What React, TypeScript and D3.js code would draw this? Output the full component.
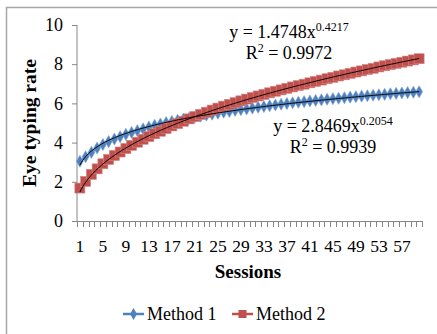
import React, { useEffect, useRef } from "react";
import * as d3 from "d3";

// sessions 1..60
const sessions: number[] = d3.range(1, 61);

const method1: number[] = [
  3.05, 3.28, 3.5, 3.72, 3.9, 4.05, 4.18, 4.3, 4.42, 4.52,
  4.61, 4.7, 4.8, 4.88, 4.95, 5.02, 5.08, 5.14, 5.2, 5.25,
  5.3, 5.35, 5.4, 5.45, 5.5, 5.55, 5.59, 5.64, 5.68, 5.72,
  5.76, 5.8, 5.84, 5.88, 5.92, 5.96, 5.99, 6.03, 6.06, 6.09,
  6.12, 6.15, 6.18, 6.21, 6.24, 6.26, 6.29, 6.32, 6.34, 6.37,
  6.39, 6.42, 6.44, 6.46, 6.49, 6.51, 6.53, 6.55, 6.57, 6.59,
];

const method2: number[] = [
  1.68, 2.02, 2.38, 2.66, 2.92, 3.14, 3.34, 3.52, 3.7, 3.86,
  4.02, 4.17, 4.31, 4.45, 4.58, 4.72, 4.85, 4.97, 5.09, 5.21,
  5.33, 5.44, 5.55, 5.66, 5.76, 5.86, 5.95, 6.04, 6.13, 6.22,
  6.3, 6.38, 6.46, 6.54, 6.62, 6.69, 6.77, 6.84, 6.91, 6.98,
  7.05, 7.12, 7.19, 7.26, 7.33, 7.4, 7.46, 7.53, 7.6, 7.66,
  7.73, 7.79, 7.86, 7.92, 7.98, 8.04, 8.1, 8.16, 8.22, 8.28,
];

const yTicks: number[] = [0, 2, 4, 6, 8, 10];
const xLabels: number[] = d3.range(1, 61, 4);

// trendline coefficients as printed on the chart
const trend1 = { a: 2.8469, b: 0.2054, eq: "y = 2.8469x", exp: "0.2054", r2: "0.9939" };
const trend2 = { a: 1.4748, b: 0.4217, eq: "y = 1.4748x", exp: "0.4217", r2: "0.9972" };

const BLUE = "#4f81bd";
const RED = "#c0504d";
const FONT = "'Liberation Serif', 'Times New Roman', serif";

const App = () => {
  const ref = useRef<SVGSVGElement>(null);

  useEffect(() => {
    draw();
  });

  const draw = () => {
    const svg = d3.select(ref.current);
    svg.selectAll("*").remove();

    const W = 437;
    const H = 334;
    const left = 77;
    const right = 422;
    const top = 25;
    const bottom = 221;

    // outer frame (only top and left edges are in view)
    svg
      .append("path")
      .attr("d", `M6.5,${H} L6.5,7.5 L${W},7.5`)
      .attr("fill", "none")
      .attr("stroke", "#a6a6a6")
      .attr("stroke-width", 1.5);

    const x = d3
      .scaleBand<number>()
      .domain(sessions)
      .range([left, right]);
    const y = d3.scaleLinear().domain([0, 10]).range([bottom, top]);

    // y axis
    const yAxis = svg
      .append("g")
      .attr("transform", `translate(${left},0)`)
      .call(d3.axisLeft(y).tickValues(yTicks).tickSize(5).tickPadding(9));
    yAxis.select(".domain").attr("stroke", "#868686").attr("d", `M0,${bottom}V${top}`);
    yAxis.selectAll("line").attr("stroke", "#868686");
    yAxis
      .selectAll("text")
      .attr("font-family", FONT)
      .attr("font-size", 18)
      .attr("fill", "#000");

    // x axis: ticks on category boundaries
    const xg = svg.append("g");
    xg.append("line")
      .attr("x1", left)
      .attr("x2", right)
      .attr("y1", bottom + 0.5)
      .attr("y2", bottom + 0.5)
      .attr("stroke", "#868686");
    const bounds = sessions.map((s) => x(s) as number).concat([right]);
    xg.selectAll("line.tk")
      .data(bounds)
      .enter()
      .append("line")
      .attr("class", "tk")
      .attr("x1", (d) => Math.round(d) + 0.5)
      .attr("x2", (d) => Math.round(d) + 0.5)
      .attr("y1", bottom)
      .attr("y2", bottom + 6)
      .attr("stroke", "#868686");
    xg.selectAll("text")
      .data(xLabels)
      .enter()
      .append("text")
      .attr("x", (d) => (x(d) as number) + x.bandwidth() / 2)
      .attr("y", bottom + 31)
      .attr("text-anchor", "middle")
      .attr("font-family", FONT)
      .attr("font-size", 17.5)
      .text((d) => d);

    const cx = (d: number) => (x(d) as number) + x.bandwidth() / 2;

    const line = d3
      .line<number>()
      .x((d, i) => cx(sessions[i]))
      .y((d) => y(d));

    // series lines
    svg.append("path").datum(method1).attr("fill", "none").attr("stroke", BLUE).attr("stroke-width", 2).attr("d", line);
    svg.append("path").datum(method2).attr("fill", "none").attr("stroke", RED).attr("stroke-width", 2).attr("d", line);

    const diamond = d3.symbol().type(d3.symbolDiamond).size(42);
    svg
      .append("g")
      .selectAll("path")
      .data(method1)
      .enter()
      .append("path")
      .attr("d", diamond)
      .attr("transform", (d, i) => `translate(${cx(sessions[i])},${y(d)})`)
      .attr("fill", BLUE)
      .attr("stroke", "#7ea3d2")
      .attr("stroke-width", 0.6);

    svg
      .append("g")
      .selectAll("rect")
      .data(method2)
      .enter()
      .append("rect")
      .attr("x", (d, i) => cx(sessions[i]) - 5)
      .attr("y", (d) => y(d) - 5)
      .attr("width", 10)
      .attr("height", 10)
      .attr("fill", RED)
      .attr("stroke", "#d48583")
      .attr("stroke-width", 0.6);

    // power trendlines
    const fine = d3.range(1, 60.01, 0.25);
    const trendLine = (t: { a: number; b: number }) =>
      d3
        .line<number>()
        .x((s) => cx(1) + (s - 1) * x.step())
        .y((s) => y(t.a * Math.pow(s, t.b)))(fine);
    svg.append("path").attr("d", trendLine(trend1)).attr("fill", "none").attr("stroke", "#000").attr("stroke-width", 1);
    svg.append("path").attr("d", trendLine(trend2)).attr("fill", "none").attr("stroke", "#000").attr("stroke-width", 1);

    // equation labels
    const eqLabel = (t: typeof trend1, ex: number, ey: number) => {
      const g = svg.append("g").attr("font-family", FONT).attr("font-size", 18);
      const t1 = g.append("text").attr("x", ex).attr("y", ey).attr("text-anchor", "middle");
      t1.append("tspan").text(t.eq);
      t1.append("tspan").attr("font-size", 12).attr("dy", -7).text(t.exp);
      const t2 = g.append("text").attr("x", ex).attr("y", ey + 21).attr("text-anchor", "middle");
      t2.append("tspan").text("R");
      t2.append("tspan").attr("font-size", 12).attr("dy", -7).text("2");
      t2.append("tspan").attr("dy", 7).text(" = " + t.r2);
    };
    eqLabel(trend2, 289, 38);
    eqLabel(trend1, 333, 132);

    // axis titles
    svg
      .append("text")
      .attr("transform", `translate(36,${(top + bottom) / 2}) rotate(-90)`)
      .attr("text-anchor", "middle")
      .attr("font-family", FONT)
      .attr("font-weight", "bold")
      .attr("font-size", 19.5)
      .text("Eye typing rate");
    svg
      .append("text")
      .attr("x", 248)
      .attr("y", 278)
      .attr("text-anchor", "middle")
      .attr("font-family", FONT)
      .attr("font-weight", "bold")
      .attr("font-size", 19)
      .text("Sessions");

    // legend
    const legend = [
      { name: "Method 1", color: BLUE, x0: 123 },
      { name: "Method 2", color: RED, x0: 232 },
    ];
    const ly = 314;
    legend.forEach((l, i) => {
      const g = svg.append("g");
      g.append("line")
        .attr("x1", l.x0)
        .attr("x2", l.x0 + 21)
        .attr("y1", ly)
        .attr("y2", ly)
        .attr("stroke", l.color)
        .attr("stroke-width", 2.5);
      if (i === 0) {
        g.append("path")
          .attr("d", diamond)
          .attr("transform", `translate(${l.x0 + 10.5},${ly})`)
          .attr("fill", l.color);
      } else {
        g.append("rect")
          .attr("x", l.x0 + 6.5)
          .attr("y", ly - 4)
          .attr("width", 8)
          .attr("height", 8)
          .attr("fill", l.color);
      }
      g.append("text")
        .attr("x", l.x0 + 24)
        .attr("y", ly + 6)
        .attr("font-family", FONT)
        .attr("font-size", 18)
        .text(l.name);
    });
  };

  return (
    <svg
      ref={ref}
      width={437}
      height={334}
      style={{ position: "absolute", left: 0, top: 0, background: "#fff" }}
    ></svg>
  );
};

export default App;
